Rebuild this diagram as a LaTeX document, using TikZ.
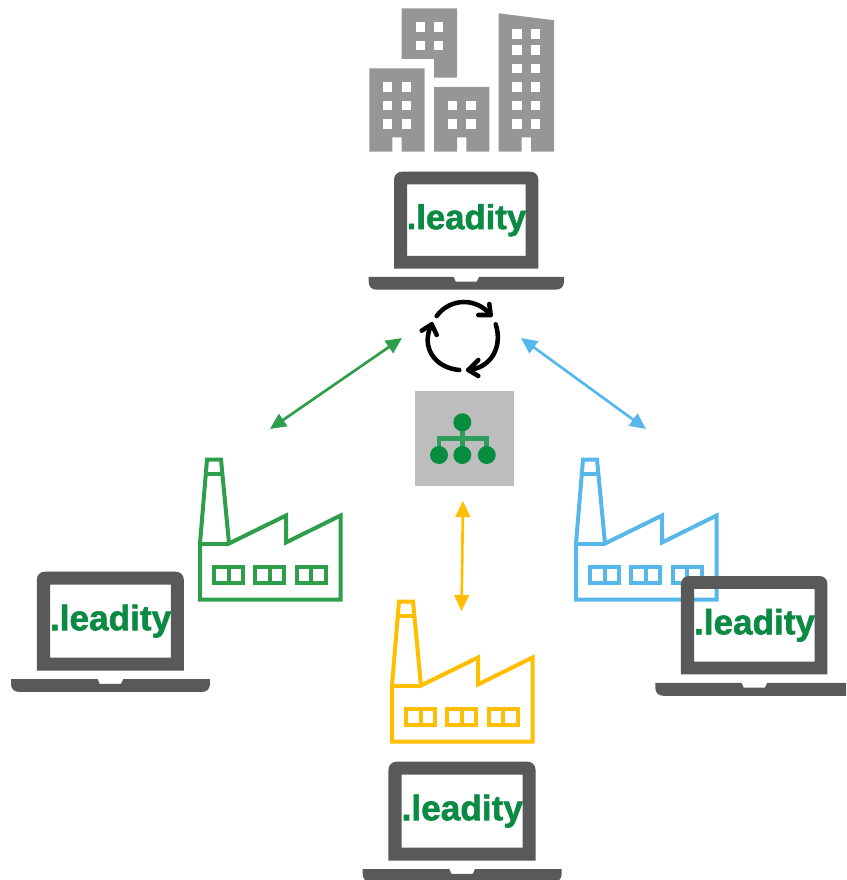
\documentclass[tikz,border=0pt]{standalone}
\usepackage{fontspec}
\setmainfont{Liberation Sans}
\newfontfamily\brandfont[UprightFont=* Bold,FakeBold=1.6]{Liberation Sans}
\usetikzlibrary{arrows.meta}
\definecolor{bldg}{HTML}{969696}
\definecolor{lap}{HTML}{595959}
\definecolor{brand}{HTML}{0B8A44}
\definecolor{fgreen}{HTML}{2E9E4B}
\definecolor{fblue}{HTML}{56B8EA}
\definecolor{fyellow}{HTML}{FFBE00}
\definecolor{hub}{HTML}{BDBDBD}
\definecolor{hubline}{HTML}{2F9E5C}
\definecolor{hubdot}{HTML}{068E3E}
\tikzset{
  x=0.75pt,y=-0.75pt,
  link/.style={line width=2pt,{Triangle[length=12pt,width=11pt]}-{Triangle[length=12pt,width=11pt]}},
  cyc/.style={line width=3.4pt,line cap=round,line join=round,black},
  win/.style={fill=white,draw=none},
  pics/laptop/.style={code={
    \fill[lap,even odd rule] (25.3,97) -- (25.3,8) .. controls (25.3,3) and (29,0) .. (33.3,0) -- (161.6,0) .. controls (166,0) and (169.6,3) .. (169.6,8) -- (169.6,97) -- cycle
      (38.3,12.6) rectangle (157,84.3);
    \fill[lap] (0,105.3) -- (85,105.3) -- (87,110) -- (108,110) -- (110.3,105.3) -- (195.3,105.3) -- (195.3,110) .. controls (195.3,115) and (192,118) .. (187.3,118) -- (8,118) .. controls (3,118) and (0,115) .. (0,110) -- cycle;
    \node[text=brand,font=\fontsize{#1}{#1}\brandfont,inner sep=0pt] (-brand) at (97.7,48.5) {.leadity};
  }},
  pics/factory/.style={code={
    \draw[#1,line width=3pt,miter limit=10]
      (0,84) -- (7,0) -- (21,0) -- (29,84) -- (86,56) -- (86,83) -- (140.5,56) -- (140.5,140) -- (0,140) -- cycle;
    \draw[#1,line width=3pt] (0,84) -- (29,84) (6,14) -- (22,14);
    \foreach \q in {14,55,96.5}{
      \draw[#1,line width=3pt] (\q,107) rectangle ++(29,16.5) (\q+14.5,107) -- ++(0,16.5);
    }
  }}
}
\begin{document}
\begin{tikzpicture}
\useasboundingbox (0,0) rectangle (846,880);
\clip (0,0) rectangle (846,880);
% buildings
\fill[bldg] (401.7,8.5) -- (457,8.5) -- (457,77.7) -- (434,77.7) -- (434,59) -- (401.7,59) -- cycle;
\fill[bldg] (369.3,68.3) -- (424.7,68.3) -- (424.7,151.7) -- (401.7,151.7) -- (401.7,137.3) -- (392.3,137.3) -- (392.3,151.7) -- (369.3,151.7) -- cycle;
\fill[bldg] (434,87) -- (489.3,87) -- (489.3,151.7) -- (466.3,151.7) -- (466.3,137.3) -- (457,137.3) -- (457,151.7) -- (434,151.7) -- cycle;
\fill[bldg] (498.7,13.3) -- (554,20.3) -- (554,151.7) -- (531,151.7) -- (531,137.3) -- (521.7,137.3) -- (521.7,151.7) -- (498.7,151.7) -- cycle;
\foreach \q in {415.7,434}\foreach \r in {22.3,40.7}{\fill[win] (\q,\r) rectangle ++(9.3,9.4);}
\foreach \q in {383,401.7}\foreach \r in {82.3,100.7,119.3}{\fill[win] (\q,\r) rectangle ++(9.3,9.4);}
\foreach \q in {447.7,466.3}\foreach \r in {100.7,119.3}{\fill[win] (\q,\r) rectangle ++(9.3,9.4);}
\foreach \q in {512.3,531}\foreach \r in {29.3,45.3,64,82.3,100.7,119.3}{\fill[win] (\q,\r) rectangle ++(9.3,9.4);}
% factories
\pic at (200,459.5) {factory=fgreen};
\pic at (576,459.5) {factory=fblue};
\pic at (392,601.5) {factory=fyellow};
% laptops
\pic (lt) at (368.7,171.7) {laptop=26pt};
\pic[scale=1.019] (ll) at (11,571.7) {laptop=26.4pt};
\pic[scale=1.015] (lr) at (655.3,576) {laptop=26.3pt};
\pic[scale=1.019] (lb) at (362.7,761.7) {laptop=26.4pt};
% cycle icon
\draw[cyc] (436.7,316) .. controls (450,298) and (476,297) .. (490.7,315);
\draw[cyc] (489.3,304) -- (490.7,315) -- (478.3,315);
\draw[cyc] (495.7,324.3) .. controls (503,347) and (491,368) .. (468.3,370);
\draw[cyc] (478.3,360) -- (468.3,370) -- (478.3,376);
\draw[cyc] (459.3,370) .. controls (435,368) and (420,347) .. (431.7,324.3);
\draw[cyc] (421.7,330.7) -- (431.7,324.3) -- (436.7,335);
% hub
\node[fill=hub,minimum width=74.25pt,minimum height=71pt,inner sep=0pt] (hub) at (464.5,438.3) {};
\draw[hubline,line width=3.5pt] (439,455) -- (439,438.3) -- (486.7,438.3) -- (486.7,455) (462.3,422) -- (462.3,455);
\foreach \q in {439,462.3,486.7}{\fill[hubdot] (\q,455) circle[radius=9];}
\fill[hubdot] (462.3,422.3) circle[radius=9];
% arrows
\coordinate (ga) at (270,429); \coordinate (gb) at (402,338);
\coordinate (ba) at (521,338); \coordinate (bb) at (646,429);
\coordinate (ya) at (463,501); \coordinate (yb) at (461.5,611);
\draw[link,fgreen] (ga) -- (gb);
\draw[link,fblue] (ba) -- (bb);
\draw[link,fyellow] (ya) -- (yb);
\end{tikzpicture}
\end{document}
